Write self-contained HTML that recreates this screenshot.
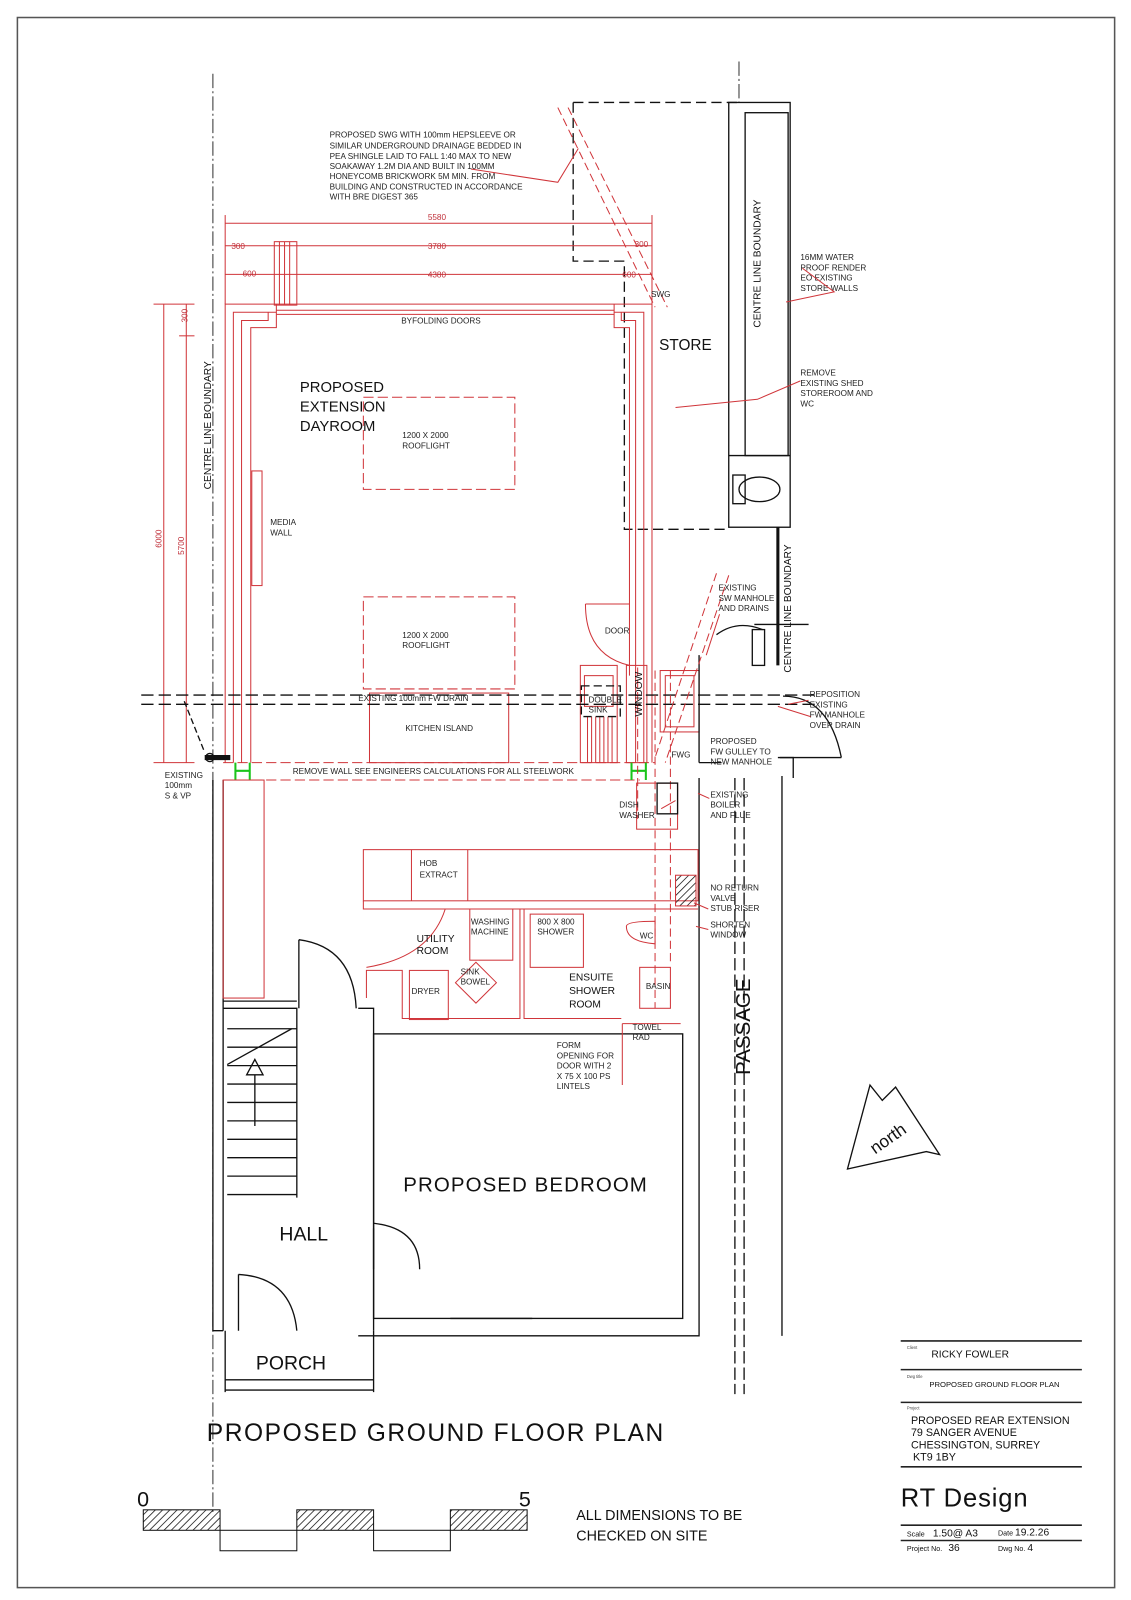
<!DOCTYPE html>
<html><head><meta charset="utf-8"><style>
html,body{margin:0;padding:0;background:#fff}
svg{display:block}
text{font-family:"Liberation Sans",sans-serif}
.r{stroke:#d0353a;fill:none;stroke-width:1}
.k{stroke:#111;fill:none;stroke-width:1.3}
.rt{fill:#c0303a;font-size:8px}
.t{fill:#222;font-size:8px}
</style></head><body>
<svg width="1131" height="1600" viewBox="0 0 1105 1563" xmlns="http://www.w3.org/2000/svg">
<defs><pattern id="h" width="5" height="5" patternUnits="userSpaceOnUse" patternTransform="rotate(45)"><line x1="0" y1="0" x2="0" y2="5" stroke="#111" stroke-width="1.5"/></pattern></defs>
<rect x="17" y="17" width="1072" height="1534" fill="none" stroke="#555" stroke-width="1.5"/>

<!-- centre lines -->
<line x1="208" y1="72" x2="208" y2="1480" stroke="#333" stroke-dasharray="14,3,2,3"/>
<line x1="722" y1="60" x2="722" y2="100" stroke="#333" stroke-dasharray="14,3,2,3"/>
<line x1="718" y1="760" x2="718" y2="1362" stroke="#111" stroke-width="1.3" stroke-dasharray="12,4"/>
<line x1="727" y1="760" x2="727" y2="1362" stroke="#111" stroke-width="1.3" stroke-dasharray="12,4"/>
<line x1="764" y1="758" x2="764" y2="1305" class="k"/>

<!-- store dashed -->
<path d="M560 100 H722 M560 100 V255 H610 V517 H712" stroke="#111" stroke-width="1.3" fill="none" stroke-dasharray="10,5"/>
<rect x="712" y="100" width="60" height="415" class="k"/>
<rect x="728" y="110" width="42" height="335" class="k"/>
<line x1="712" y1="445" x2="772" y2="445" class="k"/>
<ellipse cx="742" cy="478" rx="20" ry="12" class="k"/><rect x="716" y="464" width="12" height="28" class="k"/>
<line x1="760" y1="515" x2="760" y2="650" stroke="#111" stroke-width="3"/>
<line x1="737" y1="610" x2="790" y2="610" class="k"/><rect x="735" y="615" width="12" height="35" class="k"/>
<path d="M700 620 Q720 605 745 615" class="k"/>
<path d="M765 680 Q810 680 822 740 M762 740 H822" class="k"/>

<!-- SWG drainage dashed -->
<path d="M545 105 L640 300 M555 105 L652 300" class="r" stroke-dasharray="8,4"/>
<path d="M460 165 L545 178 L565 145" class="r"/>

<!-- dimensions -->
<g class="r">
<line x1="220" y1="218" x2="637" y2="218"/><line x1="220" y1="240" x2="637" y2="240"/><line x1="220" y1="268" x2="637" y2="268"/>
<line x1="220" y1="210" x2="220" y2="297"/><line x1="637" y1="210" x2="637" y2="297"/>
<line x1="160" y1="297" x2="160" y2="745"/><line x1="182" y1="297" x2="182" y2="745"/>
<line x1="150" y1="297" x2="190" y2="297"/><line x1="150" y1="745" x2="190" y2="745"/><line x1="175" y1="328" x2="190" y2="328"/>
<rect x="268" y="236" width="22" height="62"/>
<line x1="273" y1="236" x2="273" y2="298"/><line x1="278" y1="236" x2="278" y2="298"/><line x1="283" y1="236" x2="283" y2="298"/>
</g>
<text x="418" y="215" class="rt">5580</text><text x="418" y="243" class="rt">3780</text><text x="418" y="271" class="rt">4380</text>
<text x="226" y="243" class="rt">300</text><text x="620" y="241" class="rt">300</text><text x="237" y="270" class="rt">600</text><text x="608" y="271" class="rt">600</text>
<text x="0" y="0" class="rt" transform="translate(158,535) rotate(-90)">6000</text>
<text x="0" y="0" class="rt" transform="translate(180,542) rotate(-90)">5700</text>
<text x="0" y="0" class="rt" transform="translate(183,315) rotate(-90)">300</text>

<!-- extension -->
<g class="r">
<path d="M220 745 V297 H637 V745"/>
<path d="M228 745 V305 H270 M600 305 H629 V745"/>
<path d="M236 745 V313 H262 V305 M607 305 V313 H621 V745"/>
<path d="M245 745 V320 H270 V297 M600 297 V320 H615 V590"/>
<line x1="270" y1="303" x2="600" y2="303"/><line x1="270" y1="307" x2="600" y2="307"/>
<rect x="246" y="460" width="10" height="112"/>
<path d="M572 590 H615 V660 M572 590 Q572 640 615 650"/>
<rect x="361" y="677" width="136" height="68"/>
<rect x="567" y="650" width="36" height="95"/><rect x="571" y="660" width="28" height="30"/>
<path d="M574 700 V745 M578 700 V745 M582 700 V745 M586 700 V745 M590 700 V745 M594 700 V745 M598 700 V745"/>
<rect x="612" y="650" width="20" height="95"/>
<rect x="645" y="655" width="38" height="60"/><rect x="650" y="660" width="28" height="50"/>
<path d="M218 745 H640" stroke-dasharray="10,4"/><path d="M218 762 H625" stroke-dasharray="10,4"/>
</g>
<rect x="355" y="388" width="148" height="90" class="r" stroke-dasharray="10,4"/>
<rect x="355" y="583" width="148" height="90" class="r" stroke-dasharray="10,4"/>
<path d="M230 745 v17 M244 745 v17 M230 753 H244 M617 745 v17 M631 745 v17 M617 753 H631" stroke="#1bc41b" stroke-width="2"/>

<!-- drain -->
<line x1="138" y1="679" x2="800" y2="679" stroke="#111" stroke-width="1.3" stroke-dasharray="12,5"/>
<line x1="138" y1="688" x2="800" y2="688" stroke="#111" stroke-width="1.3" stroke-dasharray="12,5"/>
<rect x="568" y="670" width="38" height="30" class="k" stroke-dasharray="8,4"/>
<path d="M180 685 L200 735" class="k" stroke-dasharray="6,3"/>
<path d="M200 740 h25" stroke="#111" stroke-width="5"/>
<circle cx="205" cy="740" r="4" class="k"/>
<path d="M623 652 V800 M640 655 V985 M655 655 V940" class="r" stroke-dasharray="8,4"/>
<path d="M683 640 V745 M683 745 H705" class="k" stroke-width="1.8"/>
<path d="M760 740 H775 V760" class="k"/>
<path d="M700 560 L640 740 M712 562 L650 745" class="r" stroke-dasharray="8,4"/>

<!-- house -->
<g class="k" stroke-width="2">
<path d="M208 762 V1300 H218 M218 1300 V762"/>
<path d="M683 760 V1305 H350"/>
<path d="M218 985 H290 V1170 M218 978 H290 M350 985 H365 V1300"/>
<rect x="365" y="1010" width="302" height="278"/>
<path d="M220 1300 V1360 M365 1300 V1360 M220 1348 H365 M220 1358 H365"/>
<line x1="440" y1="1288" x2="520" y2="1288"/>
</g>
<path d="M222 1005 L290 1005 M222 1023 H290 M222 1041 H290 M222 1059 H290 M222 1077 H290 M222 1095 H290 M222 1113 H290 M222 1131 H290 M222 1149 H290 M222 1167 H290" class="k" stroke-width="0.8"/>
<path d="M222 1040 L285 1005" class="k" stroke-width="0.8"/>
<path d="M241 1050 L249 1035 L257 1050 Z" class="k"/><line x1="249" y1="1050" x2="249" y2="1100" class="k"/>
<path d="M292 918 Q345 925 348 985 M292 918 V985" class="k"/>
<path d="M365 1195 Q410 1200 410 1240 M365 1200 V1240" class="k"/>
<path d="M233 1245 V1300 M233 1245 Q285 1248 290 1300" class="k"/>

<!-- kitchen / utility red -->
<g class="r">
<rect x="218" y="762" width="40" height="213"/>
<rect x="355" y="830" width="327" height="50"/><line x1="402" y1="830" x2="402" y2="880"/><line x1="457" y1="830" x2="457" y2="880"/>
<path d="M355 880 V888 H682"/>
<path d="M395 888 H508 V995 H393 V948 H358 V975"/>
<rect x="459" y="888" width="42" height="50"/>
<rect x="400" y="948" width="38" height="48"/>
<path d="M445 960 L465 940 L485 960 L465 980 Z"/>
<path d="M358 945 Q420 935 435 888"/>
<path d="M512 888 V995 H607 M512 888 H680"/>
<rect x="518" y="893" width="52" height="52"/>
<rect x="625" y="945" width="30" height="40"/>
<rect x="622" y="765" width="40" height="45"/>
<path d="M608 1000 V1060 M608 1000 H665"/>
<path d="M612 905 Q612 920 640 922 V900 Q612 900 612 905"/>
<rect x="660" y="855" width="20" height="30" fill="url(#h)"/>
</g>
<rect x="642" y="765" width="20" height="30" class="k" stroke-width="1.6"/>

<!-- north arrow -->
<path d="M828 1142 L850 1060 L862 1075 L875 1062 L918 1128 L905 1125 Z" fill="none" stroke="#111" stroke-width="1.3"/>
<text x="0" y="0" font-size="17" fill="#111" transform="translate(855,1128) rotate(-35)">north</text>

<!-- scale bar -->
<rect x="140" y="1475" width="75" height="20" fill="url(#h)" stroke="#111"/>
<rect x="215" y="1495" width="75" height="20" fill="none" stroke="#111"/>
<rect x="290" y="1475" width="75" height="20" fill="url(#h)" stroke="#111"/>
<rect x="365" y="1495" width="75" height="20" fill="none" stroke="#111"/>
<rect x="440" y="1475" width="75" height="20" fill="url(#h)" stroke="#111"/>
<text x="134" y="1472" font-size="21" fill="#111">0</text><text x="507" y="1472" font-size="21" fill="#111">5</text>

<!-- title block -->
<g stroke="#222" stroke-width="1.5"><line x1="880" y1="1310" x2="1057" y2="1310"/><line x1="880" y1="1338" x2="1057" y2="1338"/><line x1="880" y1="1370" x2="1057" y2="1370"/><line x1="880" y1="1433" x2="1057" y2="1433"/><line x1="880" y1="1490" x2="1057" y2="1490"/><line x1="880" y1="1505" x2="1057" y2="1505"/></g>
<text x="886" y="1318" font-size="4" fill="#444">Client</text><text x="910" y="1326" font-size="10" fill="#111">RICKY FOWLER</text>
<text x="886" y="1346" font-size="4" fill="#444">Dwg title</text><text x="908" y="1355" font-size="7.5" fill="#111">PROPOSED GROUND FLOOR PLAN</text>
<text x="886" y="1377" font-size="4" fill="#444">Project</text>
<text x="890" y="1391" font-size="10.5" fill="#111">PROPOSED REAR EXTENSION</text>
<text x="890" y="1403" font-size="10.5" fill="#111">79 SANGER AVENUE</text>
<text x="890" y="1415" font-size="10.5" fill="#111">CHESSINGTON, SURREY</text>
<text x="892" y="1427" font-size="10.5" fill="#111">KT9 1BY</text>
<text x="880" y="1472" font-size="25" fill="#111" textLength="124">RT Design</text>
<text x="886" y="1501" font-size="7" fill="#111">Scale <tspan font-size="10" dx="6">1.50@ A3</tspan></text>
<text x="975" y="1500" font-size="7" fill="#111">Date <tspan font-size="10">19.2.26</tspan></text>
<text x="886" y="1515" font-size="7" fill="#111">Project No. <tspan font-size="10" dx="4">36</tspan></text>
<text x="975" y="1515" font-size="7" fill="#111">Dwg No. <tspan font-size="10">4</tspan></text>

<!-- labels -->
<g class="t">
<text x="322" y="134">PROPOSED SWG WITH 100mm HEPSLEEVE OR</text>
<text x="322" y="145">SIMILAR UNDERGROUND DRAINAGE BEDDED IN</text>
<text x="322" y="155">PEA SHINGLE LAID TO FALL 1:40 MAX TO NEW</text>
<text x="322" y="165">SOAKAWAY 1.2M DIA AND BUILT IN 100MM</text>
<text x="322" y="175">HONEYCOMB BRICKWORK 5M MIN. FROM</text>
<text x="322" y="185">BUILDING AND CONSTRUCTED IN ACCORDANCE</text>
<text x="322" y="195">WITH BRE DIGEST 365</text>
<text x="392" y="316">BYFOLDING DOORS</text>
<text x="636" y="290">SWG</text>
<text x="782" y="254">16MM WATER</text><text x="782" y="264">PROOF RENDER</text><text x="782" y="274">EO EXISTING</text><text x="782" y="284">STORE WALLS</text>
<text x="782" y="367">REMOVE</text><text x="782" y="377">EXISTING SHED</text><text x="782" y="387">STOREROOM AND</text><text x="782" y="397">WC</text>
<text x="393" y="428">1200 X 2000</text><text x="393" y="438">ROOFLIGHT</text>
<text x="393" y="623">1200 X 2000</text><text x="393" y="633">ROOFLIGHT</text>
<text x="264" y="513">MEDIA</text><text x="264" y="523">WALL</text>
<text x="591" y="619">DOOR</text>
<text x="702" y="577">EXISTING</text><text x="702" y="587">SW MANHOLE</text><text x="702" y="597">AND DRAINS</text>
<text x="350" y="685">EXISTING 100mm FW DRAIN</text>
<text x="575" y="686">DOUBLE</text><text x="575" y="696">SINK</text>
<text x="396" y="714">KITCHEN ISLAND</text>
<text x="791" y="681">REPOSITION</text><text x="791" y="691">EXISTING</text><text x="791" y="701">FW MANHOLE</text><text x="791" y="711">OVER DRAIN</text>
<text x="694" y="727">PROPOSED</text><text x="694" y="737">FW GULLEY TO</text><text x="694" y="747">NEW MANHOLE</text>
<text x="656" y="740">FWG</text>
<text x="286" y="756">REMOVE WALL SEE ENGINEERS CALCULATIONS FOR ALL STEELWORK</text>
<text x="161" y="760">EXISTING</text><text x="161" y="770">100mm</text><text x="161" y="780">S &amp; VP</text>
<text x="605" y="789">DISH</text><text x="605" y="799">WASHER</text>
<text x="694" y="779">EXISTING</text><text x="694" y="789">BOILER</text><text x="694" y="799">AND FLUE</text>
<text x="410" y="846">HOB</text><text x="410" y="857">EXTRACT</text>
<text x="694" y="870">NO RETURN</text><text x="694" y="880">VALVE</text><text x="694" y="890">STUB RISER</text>
<text x="694" y="906">SHORTEN</text><text x="694" y="916">WINDOW</text>
<text x="460" y="903">WASHING</text><text x="460" y="913">MACHINE</text>
<text x="525" y="903">800 X 800</text><text x="525" y="913">SHOWER</text>
<text x="625" y="917">WC</text>
<text x="450" y="952">SINK</text><text x="450" y="962">BOWEL</text>
<text x="402" y="971">DRYER</text>
<text x="631" y="966">BASIN</text>
<text x="618" y="1006">TOWEL</text><text x="618" y="1016">RAD</text>
<text x="544" y="1024">FORM</text><text x="544" y="1034">OPENING FOR</text><text x="544" y="1044">DOOR WITH 2</text><text x="544" y="1054">X 75 X 100 PS</text><text x="544" y="1064">LINTELS</text>
</g>
<text x="0" y="0" font-size="10" fill="#111" transform="translate(627,700) rotate(-90)">WINDOW</text>
<text x="0" y="0" font-size="10" fill="#111" transform="translate(206,478) rotate(-90)">CENTRE LINE BOUNDARY</text>
<text x="0" y="0" font-size="10" fill="#111" transform="translate(743,320) rotate(-90)">CENTRE LINE BOUNDARY</text>
<text x="0" y="0" font-size="10" fill="#111" transform="translate(773,657) rotate(-90)">CENTRE LINE BOUNDARY</text>
<text x="0" y="0" font-size="20" fill="#111" transform="translate(733,1050) rotate(-90)">PASSAGE</text>
<text x="644" y="342" font-size="15" fill="#111">STORE</text>
<text x="293" y="383" font-size="14.5" fill="#111">PROPOSED</text><text x="293" y="402" font-size="14.5" fill="#111">EXTENSION</text><text x="293" y="421" font-size="14.5" fill="#111">DAYROOM</text>
<text x="407" y="920" font-size="10" fill="#111">UTILITY</text><text x="407" y="932" font-size="10" fill="#111">ROOM</text>
<text x="556" y="958" font-size="10" fill="#111">ENSUITE</text><text x="556" y="971" font-size="10" fill="#111">SHOWER</text><text x="556" y="984" font-size="10" fill="#111">ROOM</text>
<text x="394" y="1164" font-size="20" fill="#111" textLength="238">PROPOSED BEDROOM</text>
<text x="273" y="1212" font-size="19" fill="#111">HALL</text>
<text x="250" y="1338" font-size="19" fill="#111">PORCH</text>
<text x="202" y="1408" font-size="24" fill="#111" textLength="446">PROPOSED  GROUND FLOOR PLAN</text>
<text x="563" y="1485" font-size="14" fill="#111">ALL DIMENSIONS TO BE</text>
<text x="563" y="1505" font-size="14" fill="#111">CHECKED ON SITE</text>
<g class="r"><path d="M784 262 L815 285 L768 295 M782 372 L740 390 L660 398 M703 600 L690 640 M790 684 L770 688 M792 700 L760 690 M646 790 L660 782 M693 780 L682 775 M692 888 L678 882 M692 908 L680 905"/></g>
</svg>
</body></html>
